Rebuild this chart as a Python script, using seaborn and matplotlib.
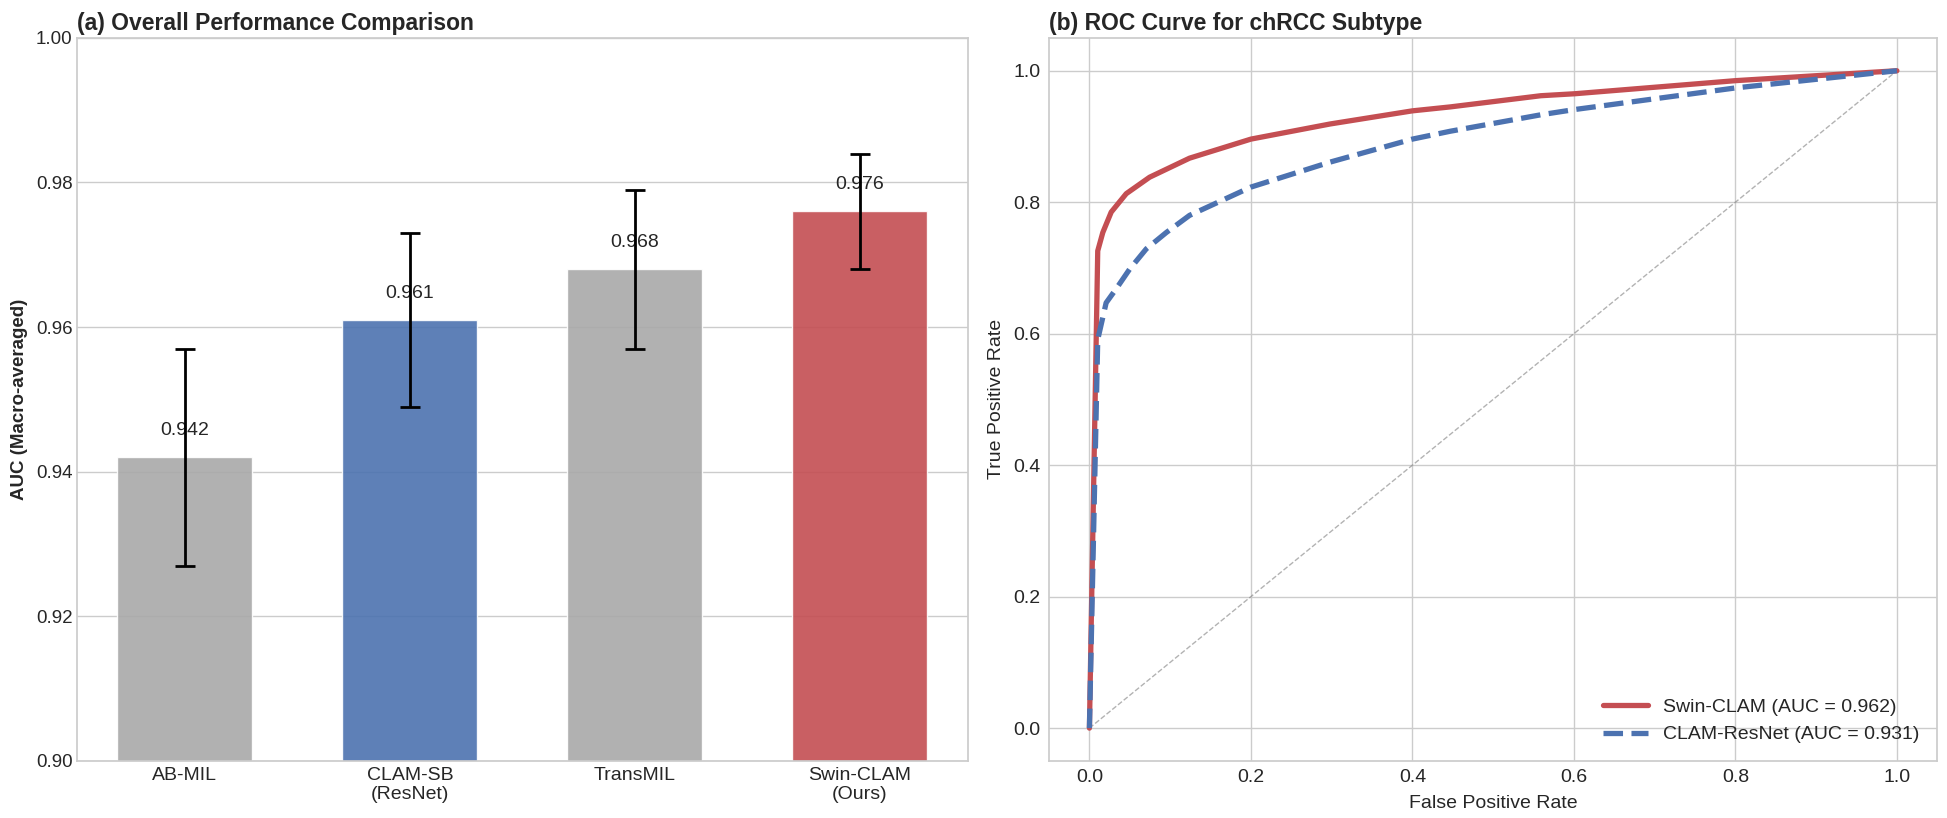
import numpy as np
import pandas as pd
import matplotlib
matplotlib.use("Agg")
import matplotlib.pyplot as plt
import seaborn as sns

# ---- data ----
methods = ["AB-MIL", "CLAM-SB\n(ResNet)", "TransMIL", "Swin-CLAM\n(Ours)"]
auc_mean = [0.942, 0.961, 0.968, 0.976]
auc_std = [0.015, 0.012, 0.011, 0.008]
bar_colors = ["#A9A9A9", "#4C72B0", "#A9A9A9", "#C44E52"]

swin_fpr = [0.0, 0.0103, 0.0166, 0.027, 0.0456, 0.0745, 0.124, 0.2, 0.298, 0.4, 0.447, 0.559, 0.601, 0.801, 1.0]
swin_tpr = [0.0, 0.726, 0.754, 0.785, 0.813, 0.838, 0.867, 0.896, 0.919, 0.939, 0.945, 0.962, 0.965, 0.985, 1.0]
resnet_fpr = [0.0, 0.0103, 0.0207, 0.033, 0.0497, 0.0704, 0.0953, 0.124, 0.2, 0.298, 0.4, 0.447, 0.559, 0.601, 0.801, 1.0]
resnet_tpr = [0.0, 0.591, 0.647, 0.668, 0.698, 0.729, 0.754, 0.78, 0.823, 0.861, 0.896, 0.908, 0.933, 0.941, 0.974, 1.0]
swin_auc = 0.962
resnet_auc = 0.931

sns.set_theme(style="whitegrid")
plt.rcParams["font.family"] = ["Liberation Sans", "DejaVu Sans"]

fig = plt.figure(figsize=(19.47, 8.18), dpi=100)
ax1 = fig.add_axes([0.0395, 0.0697, 0.4575, 0.884])
ax2 = fig.add_axes([0.5388, 0.0697, 0.4562, 0.884])

# (a) bar chart
df = pd.DataFrame({"Method": methods, "AUC": auc_mean, "std": auc_std})
sns.barplot(data=df, x="Method", y="AUC", hue="Method", palette=bar_colors,
            legend=False, width=0.6, alpha=0.9, saturation=1, ax=ax1)
ax1.errorbar(range(len(methods)), auc_mean, yerr=auc_std, fmt="none",
             ecolor="black", elinewidth=2, capsize=7, capthick=2, zorder=5)
for i, v in enumerate(auc_mean):
    ax1.text(i, v + 0.0037, f"{v:.3f}", ha="center", va="center", fontsize=14, color="#262626")
ax1.set_ylim(0.90, 1.00)
ax1.set_yticks([0.90, 0.92, 0.94, 0.96, 0.98, 1.00])
ax1.set_xlabel("")
ax1.set_ylabel("AUC (Macro-averaged)", fontsize=13.5, fontweight="bold", labelpad=6)
ax1.set_title("(a) Overall Performance Comparison", loc="left", fontsize=16.5, fontweight="bold", pad=6)
ax1.tick_params(axis="x", labelsize=14, length=0, pad=4)
ax1.tick_params(axis="y", labelsize=13.5, length=0, pad=3)

# (b) ROC
ax2.plot([0, 1], [0, 1], color="gray", ls="--", lw=1, alpha=0.6)
sns.lineplot(x=swin_fpr, y=swin_tpr, color="#C44E52", lw=3.8,
             label=f"Swin-CLAM (AUC = {swin_auc:.3f})", ax=ax2)
sns.lineplot(x=resnet_fpr, y=resnet_tpr, color="#4C72B0", lw=3.8, ls="--",
             label=f"CLAM-ResNet (AUC = {resnet_auc:.3f})", ax=ax2)
ax2.set_xlim(-0.05, 1.05)
ax2.set_ylim(-0.05, 1.05)
ax2.set_xticks(np.arange(0, 1.01, 0.2))
ax2.set_yticks(np.arange(0, 1.01, 0.2))
ax2.set_xlabel("False Positive Rate", fontsize=14, labelpad=6)
ax2.set_ylabel("True Positive Rate", fontsize=14, labelpad=6)
ax2.set_title("(b) ROC Curve for chRCC Subtype", loc="left", fontsize=16.5, fontweight="bold", pad=6)
ax2.tick_params(labelsize=14, length=0, pad=6)
ax2.legend(loc="lower right", frameon=False, fontsize=14, handlelength=2.3)

fig.savefig("out.png", dpi=100)
